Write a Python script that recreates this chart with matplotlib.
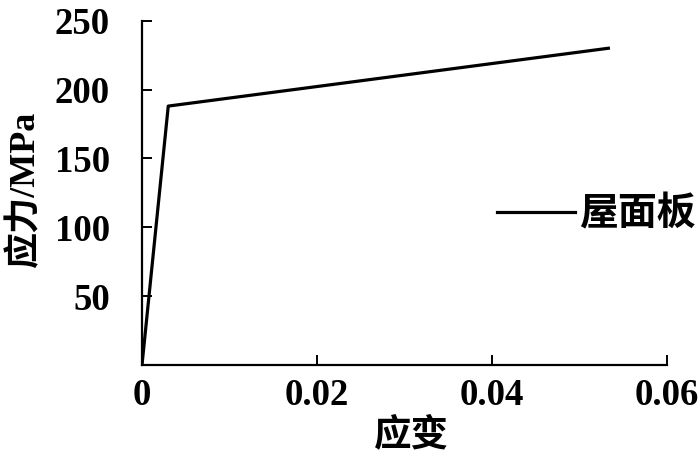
import matplotlib
matplotlib.use("Agg")
import matplotlib.pyplot as plt

strain = [0.0, 0.003, 0.0533]
stress = [0.0, 188.0, 230.0]
series_name = "屋面板"
xticks = [0, 0.02, 0.04, 0.06]
xticklabels = ["0", "0.02", "0.04", "0.06"]
yticks = [50, 100, 150, 200, 250]
yticklabels = ["50", "100", "150", "200", "250"]
xlabel = "应变"
ylabel = "应力/MPa"

fam = ["Liberation Serif", "Noto Sans CJK SC"]
plt.rcParams["font.family"] = fam

W, H = 700, 461
fig = plt.figure(figsize=(7, 4.61), dpi=100)
ax = fig.add_axes([142 / W, 1 - 365 / H, (667 - 142) / W, (365 - 20.7) / H])

line, = ax.plot(strain, stress, color="black", lw=2.3, label=series_name)
ax.set_xlim(0, 0.06)
ax.set_ylim(0, 250)
ax.set_xticks(xticks)
ax.set_xticklabels(xticklabels)
ax.set_yticks(yticks)
ax.set_yticklabels(yticklabels)
for s in ["top", "right"]:
    ax.spines[s].set_visible(False)
for s in ["left", "bottom"]:
    ax.spines[s].set_linewidth(1.6)
ax.tick_params(axis="both", direction="in", length=7, width=1.4)
ax.tick_params(axis="y", pad=23)
ax.tick_params(axis="x", pad=9)
for lab in ax.get_xticklabels() + ax.get_yticklabels():
    lab.set_fontsize(26.5)
    lab.set_fontweight("bold")

fig.text(411 / W, 1 - 435 / H, xlabel, ha="center", va="center", fontsize=27,
         fontweight="bold", family=fam)
fig.text(25 / W, 1 - 190 / H, ylabel, ha="center", va="center", fontsize=26,
         fontweight="bold", rotation=90, family=fam)

leg = fig.legend(handles=[line], loc="center left",
                 bbox_to_anchor=(497 / W, 1 - 216 / H), frameon=False,
                 handlelength=2.0, handletextpad=0.1, borderpad=0, borderaxespad=0,
                 prop={"family": fam, "size": 28, "weight": "bold"})

fig.savefig("out.png", dpi=100)
